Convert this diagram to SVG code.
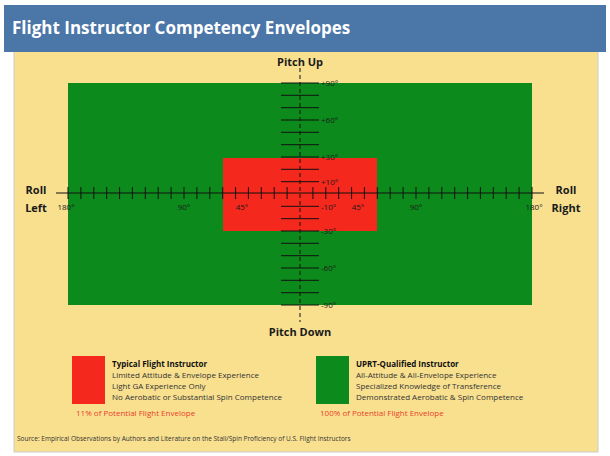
<svg xmlns="http://www.w3.org/2000/svg" width="610" height="456" viewBox="0 0 610 456">
<style>
text{font-family:"Open Sans","Liberation Sans",sans-serif;fill:#1a1a1a}
.ax{font-size:11px;font-weight:bold}
.lb{font-size:8px}
.lg{font-size:8px;fill:#333}
.red{font-size:8px;fill:#e8402a}
.tk{stroke:#111;stroke-width:1}
</style>
<rect x="0" y="0" width="610" height="456" fill="#fff"/>
<rect x="14" y="50" width="584" height="402" fill="#f8e08f" stroke="#ccc" stroke-width="1"/>
<rect x="4" y="5" width="602" height="47" fill="#4a76a8"/>
<text x="12" y="34" style="font-size:17px;font-weight:bold;fill:#fff">Flight Instructor Competency Envelopes</text>
<g id="uprt-envelope"><rect x="68" y="83" width="464" height="222" fill="#0d8a1c"/></g>
<g id="typical-envelope"><rect x="223" y="158" width="154" height="73" fill="#f5281e"/></g>
<g id="connectors">
<line x1="300" y1="68" x2="300" y2="322" stroke="#111" stroke-dasharray="4,3"/>
<line x1="56" y1="193" x2="544" y2="193" stroke="#111"/>
<path class="tk" d="M68 187v12M80.9 187v12M93.8 187v12M106.7 187v12M119.6 187v12M132.4 187v12M145.3 187v12M158.2 187v12M171.1 187v12M184 187v12M196.9 187v12M209.8 187v12M222.7 187v12M235.6 187v12M248.4 187v12M261.3 187v12M274.2 187v12M287.1 187v12M312.9 187v12M325.8 187v12M338.7 187v12M351.6 187v12M364.4 187v12M377.3 187v12M390.2 187v12M403.1 187v12M416 187v12M428.9 187v12M441.8 187v12M454.7 187v12M467.6 187v12M480.4 187v12M493.3 187v12M506.2 187v12M519.1 187v12M532 187v12"/>
<path class="tk" d="M281 83h38M281 95.3h38M281 107.7h38M281 120h38M281 132.3h38M281 144.7h38M281 157h38M281 169.3h38M281 181.7h38M281 206.3h38M281 218.7h38M281 231h38M281 243.3h38M281 255.7h38M281 268h38M281 280.3h38M281 292.7h38M281 305h38"/>
</g>
<g id="labels">
<text class="ax" x="300" y="66" text-anchor="middle">Pitch Up</text>
<text class="ax" x="300" y="336" text-anchor="middle">Pitch Down</text>
<text class="ax" x="36" y="194" text-anchor="middle">Roll</text>
<text class="ax" x="36" y="212" text-anchor="middle">Left</text>
<text class="ax" x="566" y="194" text-anchor="middle">Roll</text>
<text class="ax" x="566" y="212" text-anchor="middle">Right</text>
<g class="lb">
<text class="lb" x="66" y="210" text-anchor="middle">180°</text>
<text class="lb" x="184" y="210" text-anchor="middle">90°</text>
<text class="lb" x="242" y="210" text-anchor="middle">45°</text>
<text class="lb" x="358" y="210" text-anchor="middle">45°</text>
<text class="lb" x="416" y="210" text-anchor="middle">90°</text>
<text class="lb" x="534" y="210" text-anchor="middle">180°</text>
<text class="lb" x="321" y="86">+90°</text>
<text class="lb" x="321" y="123">+60°</text>
<text class="lb" x="321" y="160">+30°</text>
<text class="lb" x="321" y="185">+10°</text>
<text class="lb" x="321" y="210">-10°</text>
<text class="lb" x="321" y="234">-30°</text>
<text class="lb" x="321" y="271">-60°</text>
<text class="lb" x="321" y="308">-90°</text>
</g>
</g>
<g id="legend-typical">
<rect x="72" y="356" width="33" height="48" fill="#f5281e"/>
<text class="lg" x="112" y="367" style="font-weight:bold;fill:#111">Typical Flight Instructor</text>
<text class="lg" x="112" y="378">Limited Attitude &amp; Envelope Experience</text>
<text class="lg" x="112" y="389">Light GA Experience Only</text>
<text class="lg" x="112" y="400">No Aerobatic or Substantial Spin Competence</text>
<text class="red" x="76" y="416">11% of Potential Flight Envelope</text>
</g>
<g id="legend-uprt">
<rect x="316" y="356" width="33" height="48" fill="#0d8a1c"/>
<text class="lg" x="356" y="367" style="font-weight:bold;fill:#111">UPRT-Qualified Instructor</text>
<text class="lg" x="356" y="378">All-Attitude &amp; All-Envelope Experience</text>
<text class="lg" x="356" y="389">Specialized Knowledge of Transference</text>
<text class="lg" x="356" y="400">Demonstrated Aerobatic &amp; Spin Competence</text>
<text class="red" x="320" y="416">100% of Potential Flight Envelope</text>
</g>
<text x="17" y="441" style="font-size:6.5px;fill:#333">Source: Empirical Observations by Authors and Literature on the Stall/Spin Proficiency of U.S. Flight Instructors</text>
</svg>
